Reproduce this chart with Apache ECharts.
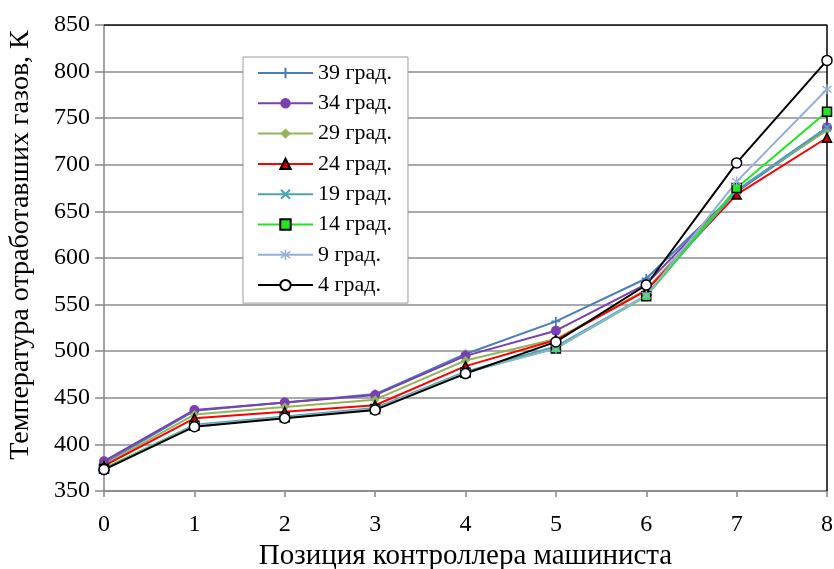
<!DOCTYPE html>
<html>
<head>
<meta charset="utf-8">
<script src="https://cdn.jsdelivr.net/npm/echarts@6/dist/echarts.min.js"></script>
<style>
  html, body { margin: 0; padding: 0; background: #fff; }
  #chart { width: 834px; height: 569px; }
</style>
</head>
<body>
<div id="chart"></div>
<script>
// positions of the controller (x axis)
const positions = [0, 1, 2, 3, 4, 5, 6, 7, 8];

// exhaust gas temperature, K, per advance angle
const t39 = [380, 436, 445, 454, 497, 532, 578, 671, 738];
const t34 = [382, 437, 445, 453, 495, 522, 572, 672, 740];
const t29 = [378, 432, 440, 448, 490, 513, 566, 673, 737];
const t24 = [377, 428, 435, 442, 484, 512, 565, 668, 729];
const t19 = [374, 421, 430, 439, 478, 505, 560, 672, 740];
const t14 = [374, 420, 429, 438, 477, 503, 559, 675, 757];
const t9 = [373, 420, 429, 438, 477, 503, 560, 682, 781];
const t4 = [373, 419, 428, 437, 476, 510, 571, 702, 812];

const seriesNames = ["39 град.", "34 град.", "29 град.", "24 град.", "19 град.", "14 град.", "9 град.", "4 град."];

const plusPath = "path://M4,0H6V4H10V6H6V10H4V6H0V4H4Z";
const crossPath = "path://M1.4,0L5,3.6L8.6,0L10,1.4L6.4,5L10,8.6L8.6,10L5,6.4L1.4,10L0,8.6L3.6,5L0,1.4Z";
const starPath = "path://M4.3,0H5.7V3.8L8.9,1.2L9.8,2.3L6.3,5L9.8,7.7L8.9,8.8L5.7,6.2V10H4.3V6.2L1.1,8.8L0.2,7.7L3.7,5L0.2,2.3L1.1,1.2L4.3,3.8Z";

function pts(arr) {
  return arr.map((v, i) => [positions[i], v]);
}

function line(name, data, color, symbol, size, itemStyle) {
  return {
    name: name,
    type: "line",
    data: pts(data),
    symbol: symbol,
    symbolSize: size,
    showSymbol: true,
    lineStyle: { color: color, width: 2 },
    itemStyle: Object.assign({ color: color }, itemStyle || {}),
    z: 3
  };
}

const chart = echarts.init(document.getElementById("chart"), null, { renderer: "canvas" });

const option = {
  animation: false,
  backgroundColor: "#fff",
  textStyle: { fontFamily: "Liberation Serif", color: "#000" },
  grid: { left: 104, right: 7, top: 25, bottom: 78, show: false, containLabel: false, outerBoundsMode: "none" },
  legend: {
    orient: "vertical",
    left: 243,
    top: 57,
    itemWidth: 55,
    itemHeight: 13,
    itemGap: 8.3,
    padding: [5, 16, 7, 14],
    backgroundColor: "#fff",
    borderColor: "#9a9a9a",
    borderWidth: 1,
    textStyle: { fontFamily: "Liberation Serif", fontSize: 22, color: "#000" },
    data: seriesNames
  },
  xAxis: {
    type: "value",
    min: 0,
    max: 8,
    interval: 1,
    name: "Позиция контроллера машиниста",
    nameLocation: "middle",
    nameGap: 42,
    nameTextStyle: { fontFamily: "Liberation Serif", fontSize: 29, color: "#000" },
    axisLine: { show: true, onZero: false, lineStyle: { color: "#868686", width: 1.5 } },
    axisTick: { show: true, inside: false, length: 6, lineStyle: { color: "#868686", width: 1.5 } },
    axisLabel: { fontFamily: "Liberation Serif", fontSize: 24, color: "#000", margin: 22 },
    splitLine: { show: false }
  },
  yAxis: {
    type: "value",
    min: 350,
    max: 850,
    interval: 50,
    name: "Температура отработавших газов, К",
    nameLocation: "middle",
    nameGap: 69,
    nameTextStyle: { fontFamily: "Liberation Serif", fontSize: 28, color: "#000", padding: [0, 0, 0, 26] },
    axisLine: { show: true, lineStyle: { color: "#868686", width: 1.5 } },
    axisTick: { show: true, length: 9, lineStyle: { color: "#868686", width: 1.5 } },
    axisLabel: { fontFamily: "Liberation Serif", fontSize: 24, color: "#000", margin: 14 },
    splitLine: { show: true, lineStyle: { color: "#8c8c8c", width: 1.5 } }
  },
  series: [
    line(seriesNames[0], t39, "#4a7ebb", plusPath, 9),
    line(seriesNames[1], t34, "#7a3fb0", "circle", 10),
    line(seriesNames[2], t29, "#93b558", "diamond", 9),
    line(seriesNames[3], t24, "#ff0000", "triangle", 9, { borderColor: "#000", borderWidth: 1.5, color: "#cc0000" }),
    line(seriesNames[4], t19, "#4aa3bf", crossPath, 9),
    line(seriesNames[5], t14, "#22e61e", "rect", 9, { borderColor: "#000", borderWidth: 1.5, color: "#22e61e" }),
    line(seriesNames[6], t9, "#94b0d8", starPath, 10),
    line(seriesNames[7], t4, "#000000", "circle", 10, { color: "#fff", borderColor: "#000", borderWidth: 1.5 }),
    {
      // top and right frame of the plot area
      type: "line",
      data: [[0, 850], [8, 850], [8, 350]],
      symbol: "none",
      silent: true,
      lineStyle: { color: "#000", width: 1.5 },
      z: 1
    }
  ]
};

chart.setOption(option);
</script>
</body>
</html>
